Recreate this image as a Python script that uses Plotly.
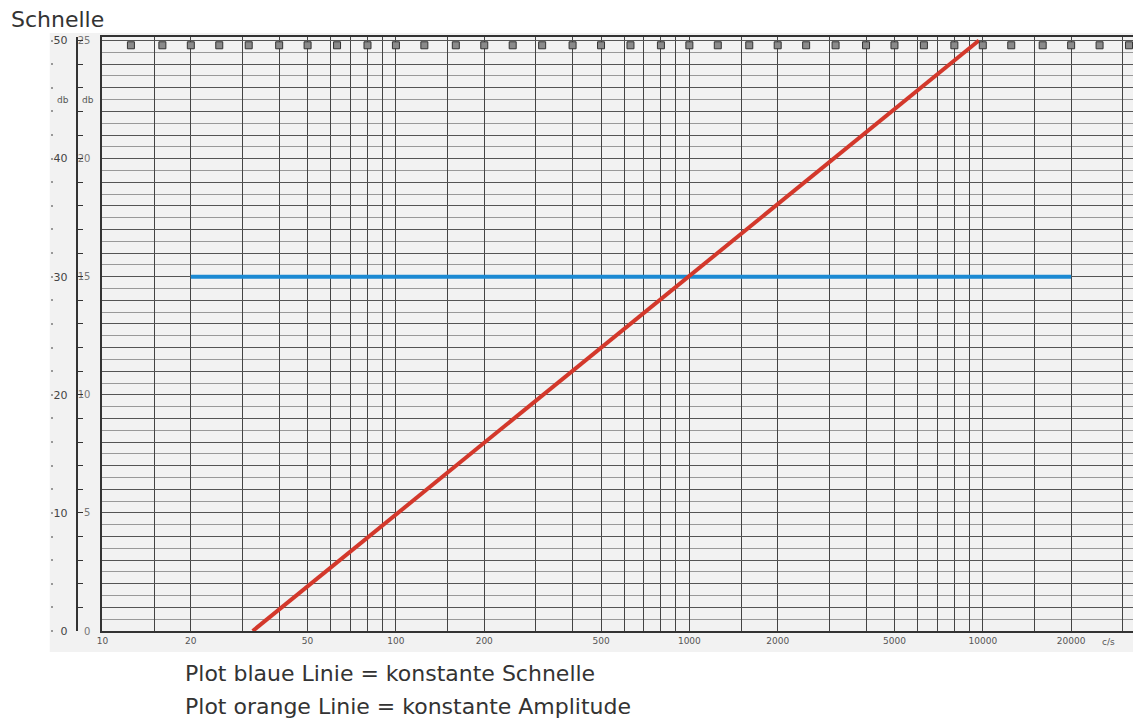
import plotly.graph_objects as go

# ---- data ----
freq_labels = [10, 20, 50, 100, 200, 500, 1000, 2000, 5000, 10000, 20000]
grid_freqs = [10, 15, 20, 30, 40, 50, 60, 70, 80, 90,
              100, 150, 200, 300, 400, 500, 600, 700, 800, 900,
              1000, 1500, 2000, 3000, 4000, 5000, 6000, 7000, 8000, 9000,
              10000, 15000, 20000, 30000]
third_octave = [12.5, 16, 20, 25, 31.5, 40, 50, 63, 80, 100, 125, 160, 200, 250,
                315, 400, 500, 630, 800, 1000, 1250, 1600, 2000, 2500, 3150,
                4000, 5000, 6300, 8000, 10000, 12500, 16000, 20000, 25000, 31500]
db_outer = [0, 10, 20, 30, 40, 50]
db_inner = [0, 5, 10, 15, 20, 25]

blue_freq = [20, 20000]
blue_db = [30, 30]
red_freq = [32.5, 9700]
red_db = [0, 50]

W, H = 1133, 722
L_PLOT = 97
T, B = 37, 91
YMAX = 50.3
PLOT_H = H - T - B

def px_x(p):
    return p / W

def px_y(p):
    return (H - B - p) / PLOT_H

font_txt = "DejaVu Sans"

fig = go.Figure()

fig.add_trace(go.Scatter(x=blue_freq, y=blue_db, mode="lines",
                         line=dict(color="#1c8ad3", width=4), showlegend=False))
fig.add_trace(go.Scatter(x=red_freq, y=red_db, mode="lines",
                         line=dict(color="#d3382b", width=4), showlegend=False))
fig.add_trace(go.Scatter(x=third_octave, y=[49.6] * len(third_octave), mode="markers",
                         marker=dict(symbol="square", size=7, color="#8a8a8a",
                                     line=dict(color="#333", width=1)),
                         showlegend=False, hoverinfo="skip"))
# helpers so the extra scale axes are drawn
fig.add_trace(go.Scatter(x=[None], y=[None], yaxis="y2", showlegend=False))
fig.add_trace(go.Scatter(x=[None], y=[None], yaxis="y3", showlegend=False))

major_y = list(range(0, 51, 2))
minor_y = list(range(1, 51, 2))

fig.update_layout(
    width=W, height=H, autosize=False,
    margin=dict(l=0, r=0, t=T, b=B),
    paper_bgcolor="white", plot_bgcolor="rgba(0,0,0,0)",
    xaxis=dict(type="log", range=[1, 1 + (W - L_PLOT) / 295.0],
               domain=[L_PLOT / W, 1],
               tickvals=grid_freqs,
               ticktext=[str(f) if f in freq_labels else "" for f in grid_freqs],
               tickfont=dict(family=font_txt, size=9, color="#555"),
               showgrid=True, gridcolor="#444", gridwidth=1,
               showline=True, linecolor="#333", linewidth=2, mirror=True,
               ticks="", zeroline=False),
    yaxis=dict(range=[0, YMAX], tickvals=major_y,
               ticktext=[str(v // 2) if v % 10 == 0 else "" for v in major_y],
               tickfont=dict(family=font_txt, size=10, color="#777"),
               ticklabelstandoff=8,
               showgrid=True, gridcolor="#555", gridwidth=1,
               minor=dict(tickvals=minor_y, showgrid=True, gridcolor="#999", gridwidth=1),
               showline=True, linecolor="#333", linewidth=2,
               ticks="", zeroline=False),
    yaxis2=dict(range=[0, YMAX], overlaying="y", anchor="free", position=71 / W,
                side="left", showline=True, linecolor="#333", linewidth=2,
                ticks="inside", ticklen=5, tickcolor="#333", tickwidth=1,
                tickvals=major_y,
                ticktext=[str(v) if v % 10 == 0 else "" for v in major_y],
                tickfont=dict(family=font_txt, size=11, color="#444"),
                ticklabelstandoff=6,
                showgrid=False, zeroline=False),
    yaxis3=dict(range=[0, YMAX], overlaying="y", anchor="free", position=47 / W,
                side="left", showline=False, ticks="outside", ticklen=2, tickwidth=2,
                tickcolor="#999", tickvals=major_y, showticklabels=False,
                showgrid=False, zeroline=False),
)

fig.add_shape(type="rect", xref="paper", yref="paper",
              x0=px_x(44), x1=1.0, y0=px_y(652), y1=px_y(33),
              fillcolor="#f2f2f2", line=dict(width=0), layer="below")

ann = [
    dict(text="Schnelle", x=px_x(3), y=px_y(19), xanchor="left", yanchor="middle",
         font=dict(family=font_txt, size=22, color="#333")),
    dict(text="db", x=px_x(57), y=px_y(100), xanchor="center", yanchor="middle",
         font=dict(family=font_txt, size=9, color="#555")),
    dict(text="db", x=px_x(82), y=px_y(100), xanchor="center", yanchor="middle",
         font=dict(family=font_txt, size=9, color="#555")),
    dict(text="c/s", x=px_x(1108), y=px_y(642), xanchor="center", yanchor="middle",
         font=dict(family=font_txt, size=9, color="#555")),
    dict(text="Plot blaue Linie = konstante Schnelle", x=px_x(178), y=px_y(673),
         xanchor="left", yanchor="middle",
         font=dict(family=font_txt, size=22, color="#333")),
    dict(text="Plot orange Linie = konstante Amplitude", x=px_x(178), y=px_y(706),
         xanchor="left", yanchor="middle",
         font=dict(family=font_txt, size=22, color="#333")),
]
for a in ann:
    fig.add_annotation(xref="paper", yref="paper", showarrow=False, **a)

fig.write_html("out.html",
               config={"displayModeBar": False},
               post_script="document.body.style.margin='0px';"
                           "document.body.style.padding='0px';"
                           "document.body.style.overflow='hidden';")
